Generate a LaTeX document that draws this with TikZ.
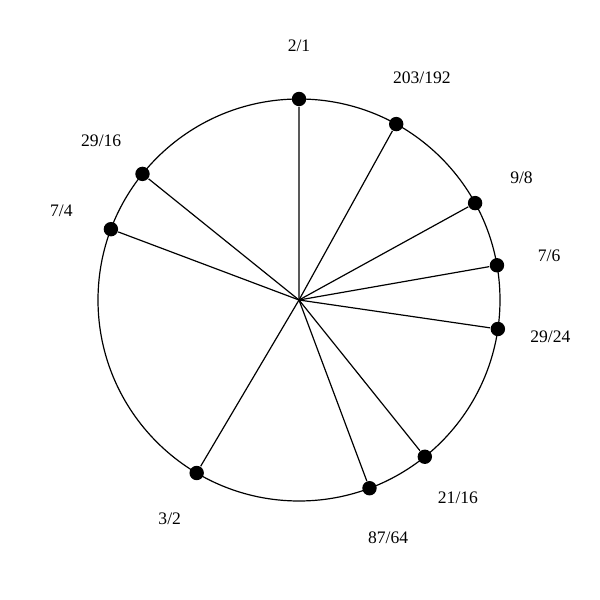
\documentclass[tikz,border=0pt]{standalone}
\usepackage{fontspec}
\setmainfont{Liberation Serif}
\begin{document}
\begin{tikzpicture}[x=0.025cm,y=0.025cm,line width=0.85pt,
  dot/.style={circle,fill=black,inner sep=0pt,minimum size=0.36cm},
  ratio/.style={font=\fontsize{12.5}{15}\selectfont}]

\useasboundingbox (0,0) rectangle (600,600);
\coordinate (O) at (299,300);
\draw (O) circle [radius=201];

% one spoke per interval, angle = log2 of the ratio
\foreach \n/\d [count=\i] in {2/1,203/192,9/8,7/6,29/24,21/16,87/64,3/2,7/4,29/16}
{
  \pgfmathsetmacro{\a}{90-360*ln(\n/\d)/ln(2)}
  \path (O) ++(\a:201) node[dot] (p\i) {};
  \path (O) ++(\a:254) node[ratio] (l\i) {\n/\d};
  \draw (O) -- (p\i);
}
\end{tikzpicture}
\end{document}
